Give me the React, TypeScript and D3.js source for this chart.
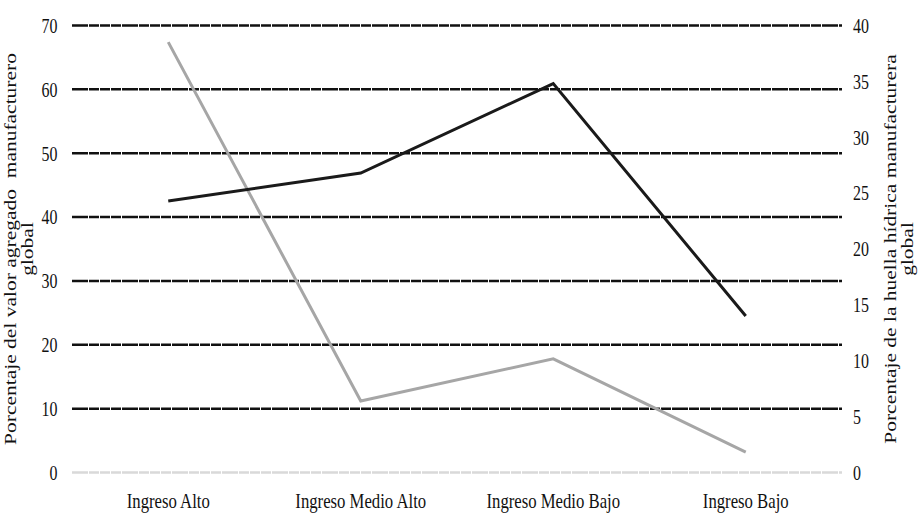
import React from "react";
import * as d3 from "d3";

const categories = ["Ingreso Alto", "Ingreso Medio Alto", "Ingreso Medio Bajo", "Ingreso Bajo"];
const valorAgregado = [67.4, 11.2, 17.8, 3.2]; // left axis, gray line
const huellaHidrica = [24.3, 26.8, 34.8, 14.0]; // right axis, black line
const leftTicks = [0, 10, 20, 30, 40, 50, 60, 70];
const rightTicks = [0, 5, 10, 15, 20, 25, 30, 35, 40];
const leftTitle = ["Porcentaje del valor agregado  manufacturero", "global"];
const rightTitle = ["Porcentaje de la huella hídrica manufacturera", "global"];

const W = 919;
const H = 516;
const FONT = "Liberation Serif, Times New Roman, serif";
const SX = 0.76;

export default function App() {
  const x = d3.scaleBand<string>().domain(categories).range([72, 842]);
  const yL = d3.scaleLinear().domain([0, 70]).range([472.5, 25.5]);
  const yR = d3.scaleLinear().domain([0, 40]).range([472.5, 25.5]);
  const cx = (c: string) => (x(c) as number) + x.bandwidth() / 2;

  const grayLine = d3
    .line<number>()
    .x((_, i) => cx(categories[i]))
    .y((d) => yL(d));
  const blackLine = d3
    .line<number>()
    .x((_, i) => cx(categories[i]))
    .y((d) => yR(d));

  const dash = "16 1 10 1 10 1 10 1";

  return (
    <svg
      width={W}
      height={H}
      style={{ position: "absolute", left: 0, top: 0, background: "#fff" }}
      fontFamily={FONT}
    >
      <rect width={W} height={H} fill="#fff" />
      {leftTicks.map((t) => (
        <line
          key={"g" + t}
          x1={72}
          x2={842}
          y1={yL(t)}
          y2={yL(t)}
          stroke={t === 0 ? "#d9d9d9" : "#111"}
          strokeWidth={2.5}
          strokeDasharray={dash}
        />
      ))}
      {leftTicks.map((t) => (
        <text
          key={"l" + t}
          transform={`translate(57.5,${yL(t)}) scale(${SX},1)`}
          dy="0.35em"
          textAnchor="end"
          fontSize={21}
          fill="#111"
        >
          {t}
        </text>
      ))}
      {rightTicks.map((t) => (
        <text
          key={"r" + t}
          transform={`translate(853,${yR(t)}) scale(${SX},1)`}
          dy="0.35em"
          textAnchor="start"
          fontSize={21}
          fill="#111"
        >
          {t}
        </text>
      ))}
      {categories.map((c) => (
        <text
          key={c}
          transform={`translate(${cx(c)},508) scale(${SX},1)`}
          textAnchor="middle"
          fontSize={22}
          fill="#111"
        >
          {c}
        </text>
      ))}
      <path d={grayLine(valorAgregado) as string} fill="none" stroke="#a6a6a6" strokeWidth={3} />
      <path d={blackLine(huellaHidrica) as string} fill="none" stroke="#1a1a1a" strokeWidth={3} />
      {leftTitle.map((s, i) => (
        <text
          key={"lt" + i}
          transform={`translate(${16 + i * 17},249) scale(0.8,1) rotate(-90)`}
          textAnchor="middle"
          fontSize={21.5}
          fill="#111"
          style={{ whiteSpace: "pre" }}
        >
          {s}
        </text>
      ))}
      {rightTitle.map((s, i) => (
        <text
          key={"rt" + i}
          transform={`translate(${896 + i * 17},249) scale(0.8,1) rotate(-90)`}
          textAnchor="middle"
          fontSize={21.5}
          fill="#111"
          style={{ whiteSpace: "pre" }}
        >
          {s}
        </text>
      ))}
    </svg>
  );
}
